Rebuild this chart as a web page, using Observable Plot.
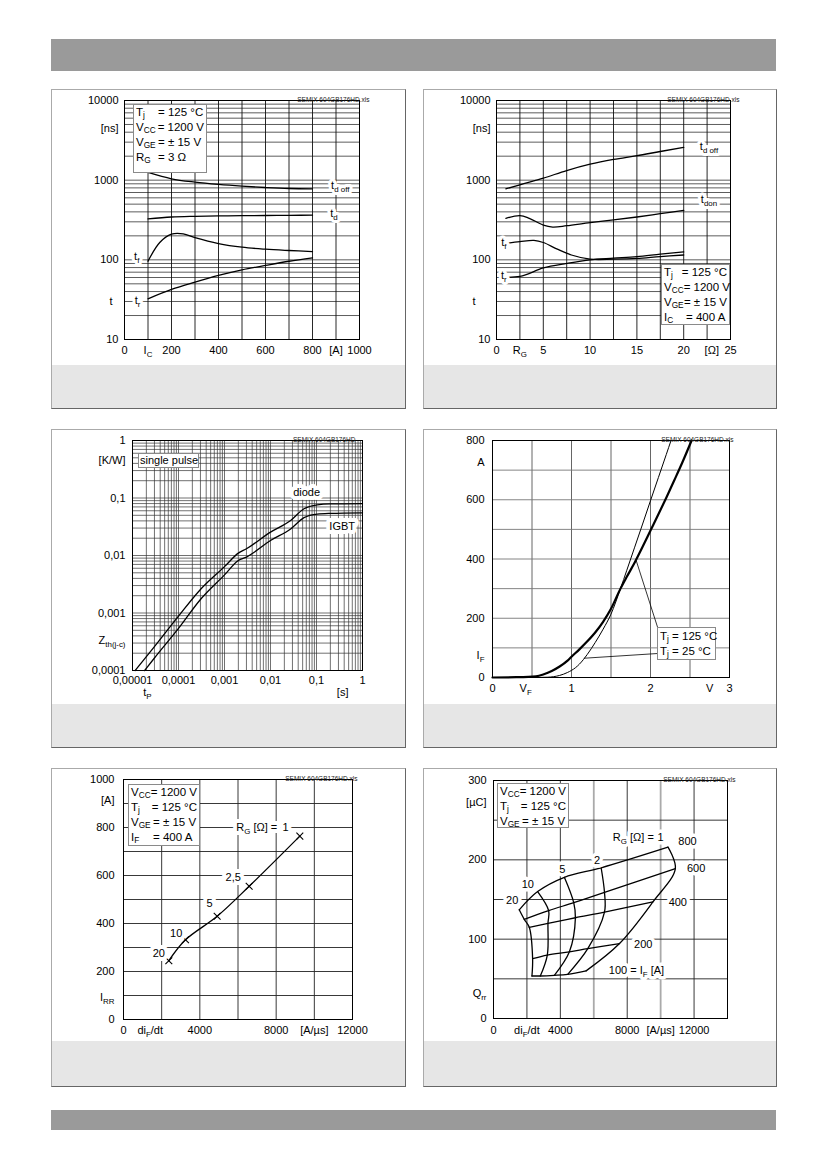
<!DOCTYPE html>
<html><head><meta charset="utf-8">
<script src="https://cdn.jsdelivr.net/npm/d3@7"></script>
<script src="https://cdn.jsdelivr.net/npm/@observablehq/plot@0.6"></script>
<style>
body{margin:0;background:#fff;}
#page{position:relative;width:826px;height:1169px;font-family:"Liberation Sans",Arial,Helvetica,sans-serif;color:#000;overflow:hidden;background:#fff;}
.bar{position:absolute;left:51px;width:725px;background:#9a9a9a;}
.panel{position:absolute;box-sizing:border-box;border:1px solid #aaa;border-right-color:#666;border-bottom-color:#666;background:#fff;}
.gray{position:absolute;left:0;right:0;bottom:0;background:#e6e6e6;}
.chart{position:absolute;}
.chart svg{display:block;overflow:visible;}
.box{position:absolute;background:#fff;border:1px solid #8a8a8a;box-sizing:border-box;font-size:11.5px;line-height:15px;padding:0 2px;white-space:nowrap;}
.box .row{display:flex;}
.box .k{width:22px;}
sub{font-size:72%;vertical-align:-2px;line-height:0;}
</style></head>
<body>
<div id="page"></div>
<script>
// ---------- DATA ----------
// Panel 1: t vs I_C (R_G = 3 Ω)
const ic = [100, 200, 300, 400, 500, 600, 700, 800];
const tdoff1 = [1250, 1040, 944, 883, 840, 809, 786, 778];
const tdon1 = [327, 345, 352, 356, 358, 360, 362, 364];
const icF = [100, 150, 200, 250, 300, 400, 500, 600, 700, 800];
const tf1 = [96, 165, 210, 212, 190, 160, 144, 136, 131, 127];
const tr1 = [32.4, 42.5, 52.5, 63.6, 74.8, 85, 96, 106];

// Panel 2: t vs R_G (I_C = 400 A)
const rgOff = [1, 2.5, 5, 7.5, 10, 12.5, 15, 17.5, 20];
const tdoff2 = [777, 875, 1060, 1320, 1586, 1820, 2028, 2290, 2575];
const rgOn = [1, 2.5, 3.5, 5, 6, 7.5, 10, 12.5, 15, 17.5, 20];
const tdon2 = [332, 359, 332, 273, 258, 268, 293, 317, 345, 380, 418];
const rgF = [1, 2.5, 4, 5, 6.5, 8, 10, 12.5, 15, 17.5, 20];
const tf2 = [161, 169, 175, 165, 136, 115, 102, 102, 104, 110, 115];
const rgR = [1, 2.5, 5, 7.5, 10, 12.5, 15, 17.5, 20];
const tr2 = [60, 62, 79, 90, 100, 105, 110, 118, 126];

// Panel 3: transient thermal impedance
const tpDiode = [1.14e-5, 3e-5, 1e-4, 3e-4, 1e-3, 2e-3, 3e-3, 1e-2, 2.74e-2, 5.35e-2, 0.104, 0.2, 1];
const zDiode = [1e-4, 2.6e-4, 8.8e-4, 2.56e-3, 6.4e-3, 0.011, 0.0131, 0.0255, 0.0407, 0.0649, 0.076, 0.079, 0.08];
const tpIgbt = [1.83e-5, 3e-5, 1e-4, 3e-4, 1e-3, 2e-3, 3e-3, 1e-2, 2.74e-2, 5.35e-2, 0.104, 0.2, 1];
const zIgbt = [1e-4, 1.65e-4, 5.4e-4, 1.72e-3, 4.6e-3, 8.2e-3, 9.4e-3, 0.0182, 0.029, 0.0455, 0.0525, 0.054, 0.0552];

// Panel 4: diode forward characteristic
const vf125 = [0, 0.3, 0.55, 0.65, 0.75, 0.85, 0.95, 1.0, 1.1, 1.2, 1.3, 1.4, 1.5, 1.62, 1.7, 1.8, 1.9, 2.0, 2.1, 2.2, 2.3, 2.4, 2.52];
const if125 = [0, 1, 4, 11, 22, 37, 57, 70, 95, 122, 152, 188, 232, 300, 340, 388, 441, 496, 551, 607, 665, 724, 800];
const vf25 = [0, 0.55, 0.7, 0.85, 0.95, 1.05, 1.1, 1.2, 1.3, 1.4, 1.5, 1.62, 1.7, 1.8, 1.9, 2.0, 2.1, 2.2, 2.26];
const if25 = [0, 0, 1, 7, 17, 33, 45, 78, 118, 163, 214, 300, 362, 440, 518, 597, 675, 753, 800];
const leaderFrom = [[2.10, 161], [2.09, 81]];
const leaderTo = [[1.82, 394], [1.157, 65]];

// Panel 5: I_RR vs di_F/dt
const rg5 = ["1", "2,5", "5", "10", "20"];
const didt5 = [9240, 6585, 4908, 3249, 2375];
const irr5 = [764, 555, 430, 332, 245];
const rg5LabelX = [8490, 5746, 4506, 2760, 1852];
const rg5LabelY = [801, 593, 485, 357, 274];
const rg5Title = "R_{G} [Ω] =", rg5TitleX = 8054;

// Panel 6: Q_rr vs di_F/dt  (columns: R_G = 20, 10, 5, 2, 1 Ω)
const rg6 = [20, 10, 5, 2, 1];
const if6 = [800, 600, 400, 200, 100];
const didt800 = [1540, 2640, 4240, 6440, 10440], qrr800 = [137, 160, 178, 190, 216];
const didt600 = [1840, 3300, 4800, 6640, 10880], qrr600 = [125, 136, 146, 159, 189];
const didt400 = [2140, 3260, 4900, 6640, 9540], qrr400 = [115, 120, 127, 134, 147];
const didt200 = [2340, 3220, 4540, 5640, 7540], qrr200 = [75.5, 80, 84, 88, 94.5];
const didt100 = [2300, 2800, 3640, 4440, 5540], qrr100 = [53.6, 53.6, 54.4, 55.7, 60];
const rg6Title = "R_{G} [Ω] =", rg6TitleX = 9593, rg6TitleY = 228;
const lab6Text = ["1", "800", "600", "400", "200", "100 = I_{F} [A]", "2", "5", "10", "20"];
const lab6X = [9990, 11607, 12125, 11027, 8956, 8555, 6203, 4110, 2052, 1118];
const lab6Y = [228, 223, 188.7, 146.6, 93.8, 60.5, 199.7, 188.3, 169.4, 148.4];

// Tick labels
const xT1 = [0, 100, 200, 400, 600, 800, 900, 1000], xL1 = ["0", "I_{C}", "200", "400", "600", "800", "[A]", "1000"];
const yT1 = [10, 100, 1000, 4500, 10000], yL1 = ["10", "100", "1000", "[ns]", "10000"];
const xT2 = [0, 2.5, 5, 10, 15, 20, 23, 25], xL2 = ["0", "R_{G}", "5", "10", "15", "20", "[Ω]", "25"];
const xT3 = [1e-5, 1e-4, 1e-3, 1e-2, 0.1, 1], xL3 = ["0,00001", "0,0001", "0,001", "0,01", "0,1", "1"];
const xT3b = [2.1e-5, 0.37], xL3b = ["t_{P}", "[s]"];
const yT3 = [1e-4, 3.3e-4, 1e-3, 1e-2, 0.1, 0.45, 1], yL3 = ["0,0001", "Z_{th(j-c)}", "0,001", "0,01", "0,1", "[K/W]", "1"];
const xT4 = [0, 0.42, 1, 2, 2.75, 3], xL4 = ["0", "V_{F}", "1", "2", "V", "3"];
const yT4 = [0, 75, 200, 400, 600, 725, 800], yL4 = ["0", "I_{F}", "200", "400", "600", "A", "800"];
const xT5 = [0, 1400, 4000, 8000, 10000, 12000], xL5 = ["0", "di_{F}/dt", "4000", "8000", "[A/µs]", "12000"];
const yT5 = [0, 90, 200, 400, 600, 800, 912, 1000], yL5 = ["0", "I_{RR}", "200", "400", "600", "800", "[A]", "1000"];
const xT6 = [0, 2000, 4000, 8000, 10000, 12000], xL6 = ["0", "di_{F}/dt", "4000", "8000", "[A/µs]", "12000"];
const yT6 = [0, 31, 100, 200, 272, 300], yL6 = ["0", "Q_{rr}", "100", "200", "[µC]", "300"];

// Grid values
const logGrid = (e0, e1) => d3.range(e0, e1).flatMap(e => [1,2,3,4,5,6,7,8,9].map(k => +(k * Math.pow(10, e)).toPrecision(3)));
const gx1 = [100, 200, 300, 400, 500, 600, 700, 800, 900];
const gy12 = logGrid(1, 4);
const gx2 = [2.5, 5, 7.5, 10, 12.5, 15, 17.5, 20, 22.5];
const gx3 = logGrid(-5, 0), gy3 = logGrid(-4, 0);
const gx4 = [0.5, 1, 1.5, 2, 2.5], gy4 = [100, 200, 300, 400, 500, 600, 700];
const gx5 = [2000, 4000, 6000, 8000, 10000], gy5 = [100, 200, 300, 400, 500, 600, 700, 800, 900];
const gx6 = [2000, 4000, 8000, 12000], gx6b = [6000, 10000], gy6 = [50, 100, 150, 200, 250];

const WM = "SEMIX 604GB176HD.xls";

// ---------- HELPERS ----------
const FF = '"Liberation Sans", Arial, Helvetica, sans-serif';
const page = document.getElementById("page");
const SVGNS = "http://www.w3.org/2000/svg";
const zip = (xs, ys) => xs.map((x, i) => ({x, y: ys[i]}));

function rich(svg) {
  svg.querySelectorAll("text").forEach(t => {
    const els = t.querySelector("tspan") ? [...t.querySelectorAll("tspan")] : [t];
    els.forEach(el => {
      const s = el.textContent;
      if (!s.includes("_{")) return;
      el.textContent = "";
      const re = /_\{([^}]*)\}/g; let last = 0, m, shifted = false; const sh = 3;
      const add = (txt, dy, small) => {
        const ts = document.createElementNS(SVGNS, "tspan");
        if (dy) ts.setAttribute("dy", dy);
        if (small) ts.setAttribute("font-size", "0.72em");
        ts.textContent = txt; el.appendChild(ts);
      };
      while ((m = re.exec(s))) {
        const pre = s.slice(last, m.index);
        if (pre) { add(pre, shifted ? -sh : 0, false); shifted = false; }
        add(m[1], shifted ? 0 : sh, true); shifted = true;
        last = re.lastIndex;
      }
      const post = s.slice(last);
      if (post) add(post, shifted ? -sh : 0, false);
    });
  });
}

function el(cls, css, html) {
  const d = document.createElement("div"); d.className = cls; Object.assign(d.style, css);
  if (html) d.innerHTML = html; page.appendChild(d); return d;
}
function panel(left, top, w, h, grayH) {
  const p = el("panel", {left: left + "px", top: top + "px", width: w + "px", height: h + "px"});
  const g = document.createElement("div"); g.className = "gray"; g.style.height = grayH + "px"; p.appendChild(g);
}
function box(left, top, w, h, rows, extra) {
  const html = rows.map(r => Array.isArray(r)
    ? `<div class="row"><span class="k">${r[0]}</span><span>${r[1]}</span></div>`
    : `<div class="row"><span>${r}</span></div>`).join("");
  el("box", Object.assign({left: left + "px", top: top + "px", width: w + "px", height: h + "px"}, extra || {}), html);
}
function axisText(xT, xL, xdy, yT, yL, ydx) {
  const m = [];
  if (xT) m.push(Plot.text(xT, {x: d => d, text: (d, i) => xL[i], frameAnchor: "bottom", dy: xdy, fontSize: 11}));
  if (yT) m.push(Plot.text(yT, {y: d => d, text: (d, i) => yL[i], frameAnchor: "left", textAnchor: "end", dx: ydx, fontSize: 11}));
  return m;
}
const wm = (txt, dx) => Plot.text([txt], {text: d => d, frameAnchor: "top-right", textAnchor: "end", lineAnchor: "bottom", dx, dy: 1.5, fontSize: 6.5, fill: "#222"});
// label on a white backing: a white-stroked copy underneath, then the black text
function haloText(data, opts, sw) {
  return [
    Plot.text(data, {...opts, fontSize: 11, fill: "white", stroke: "white", strokeWidth: sw || 5}),
    Plot.text(data, {...opts, fontSize: 11, fill: "black"})
  ];
}

function chart(o) {
  const svg = Plot.plot({
    width: o.w, height: o.h,
    marginLeft: o.mL, marginRight: o.mR, marginTop: o.mT, marginBottom: o.mB,
    x: Object.assign({axis: null}, o.x), y: Object.assign({axis: null}, o.y),
    style: {fontFamily: FF, fontSize: "11px", background: "transparent", overflow: "visible", color: "black"},
    marks: o.marks
  });
  rich(svg);
  const d = el("chart", {left: o.left + "px", top: o.top + "px"});
  d.appendChild(svg);
}

// ---------- PAGE FRAME ----------
el("bar", {top: "39px", height: "32px"});
el("bar", {top: "1110px", height: "20px"});
panel(51, 89, 355, 320, 43);
panel(423, 89, 354, 320, 43);
panel(51, 429, 355, 319, 43);
panel(423, 429, 354, 319, 43);
panel(51, 768, 355, 319, 45);
panel(423, 768, 354, 319, 45);

const curve = {stroke: "black", strokeWidth: 1.3};

// ---------- PANEL 1 ----------
chart({
  left: 51, top: 89, w: 355, h: 277, mL: 73, mR: 47, mT: 11, mB: 27,
  x: {domain: [0, 1000]}, y: {type: "log", domain: [10, 10000]},
  marks: [
    Plot.ruleY(gy12, {stroke: "#333", strokeWidth: 0.8}),
    Plot.ruleX(gx1, {stroke: "#111", strokeWidth: 0.9}),
    Plot.line(zip(ic, tdoff1), {x: "x", y: "y", curve: "monotone-x", ...curve}),
    Plot.line(zip(ic, tdon1), {x: "x", y: "y", curve: "monotone-x", ...curve}),
    Plot.line(zip(icF, tf1), {x: "x", y: "y", curve: "catmull-rom", ...curve}),
    Plot.line(zip(ic, tr1), {x: "x", y: "y", curve: "monotone-x", ...curve}),
    ...haloText([{x: 918, y: 857, t: "t_{d off}"}, {x: 891, y: 382, t: "t_{d}"}, {x: 52, y: 110, t: "t_{f}"}, {x: 56, y: 30.9, t: "t_{r}"}],
      {x: "x", y: "y", text: "t"}, 6),
    Plot.frame({stroke: "black", strokeWidth: 1}),
    ...axisText(xT1, xL1, 14, yT1, yL1, -6),
    Plot.text([30], {y: d => d, text: () => "t", frameAnchor: "left", dx: -15, fontSize: 11}),
    wm(WM, 10)
  ]
});
box(133, 104, 74, 69, [["T<sub>j</sub>", "= 125 °C"], ["V<sub>CC</sub>", "= 1200 V"], ["V<sub>GE</sub>", "= ± 15 V"], ["R<sub>G</sub>", "= 3 Ω"]]);

// ---------- PANEL 2 ----------
chart({
  left: 423, top: 89, w: 354, h: 277, mL: 73, mR: 47, mT: 11, mB: 27,
  x: {domain: [0, 25]}, y: {type: "log", domain: [10, 10000]},
  marks: [
    Plot.ruleY(gy12, {stroke: "#333", strokeWidth: 0.8}),
    Plot.ruleX(gx2, {stroke: "#111", strokeWidth: 0.9}),
    Plot.line(zip(rgOff, tdoff2), {x: "x", y: "y", curve: "monotone-x", ...curve}),
    Plot.line(zip(rgOn, tdon2), {x: "x", y: "y", curve: "catmull-rom", ...curve}),
    Plot.line(zip(rgF, tf2), {x: "x", y: "y", curve: "catmull-rom", ...curve}),
    Plot.line(zip(rgR, tr2), {x: "x", y: "y", curve: "monotone-x", ...curve}),
    ...haloText([{x: 22.7, y: 2650, t: "t_{d off}"}, {x: 22.7, y: 566, t: "t_{don}"}, {x: 0.78, y: 166, t: "t_{f}"}, {x: 0.78, y: 63.6, t: "t_{r}"}],
      {x: "x", y: "y", text: "t"}, 6),
    Plot.frame({stroke: "black", strokeWidth: 1}),
    ...axisText(xT2, xL2, 14, yT1, yL1, -6),
    Plot.text([30], {y: d => d, text: () => "t", frameAnchor: "left", dx: -24, fontSize: 11}),
    wm(WM, 9)
  ]
});
box(661, 264, 69, 61, [["T<sub>j</sub>", "= 125 °C"], ["V<sub>CC</sub>", "= 1200 V"], ["V<sub>GE</sub>", "= ± 15 V"], ["I<sub>C</sub>", "= 400 A"]]);

// ---------- PANEL 3 ----------
chart({
  left: 51, top: 429, w: 355, h: 276, mL: 81, mR: 44, mT: 11, mB: 35,
  x: {type: "log", domain: [1e-5, 1]}, y: {type: "log", domain: [1e-4, 1]},
  marks: [
    Plot.ruleX(gx3, {stroke: "#333", strokeWidth: 0.7}),
    Plot.ruleY(gy3, {stroke: "#333", strokeWidth: 0.7}),
    Plot.line(zip(tpDiode, zDiode), {x: "x", y: "y", curve: "monotone-x", ...curve}),
    Plot.line(zip(tpIgbt, zIgbt), {x: "x", y: "y", curve: "monotone-x", ...curve}),
    ...haloText([{x: 0.061, y: 0.126, t: "diode"}, {x: 0.362, y: 0.0323, t: "IGBT"}], {x: "x", y: "y", text: "t"}, 8),
    Plot.frame({stroke: "black", strokeWidth: 1}),
    ...axisText(xT3, xL3, 13, yT3, yL3, -7),
    Plot.text(xT3b, {x: d => d, text: (d, i) => xL3b[i], frameAnchor: "bottom", dy: 25, fontSize: 11}),
    wm("SEMIX 604GB176HD", -7)
  ]
});
box(138, 453, 61, 15, ["single pulse"], {fontSize: "11px", padding: "0 1px", lineHeight: "13px"});

// ---------- PANEL 4 ----------
chart({
  left: 423, top: 429, w: 354, h: 276, mL: 69, mR: 48, mT: 11, mB: 28,
  x: {domain: [0, 3]}, y: {domain: [0, 800]},
  marks: [
    Plot.ruleX(gx4, {stroke: "#555", strokeWidth: 0.9}),
    Plot.ruleY(gy4, {stroke: "#777", strokeWidth: 0.9}),
    Plot.line(zip(vf25, if25), {x: "x", y: "y", curve: "monotone-x", stroke: "black", strokeWidth: 1}),
    Plot.line(zip(vf125, if125), {x: "x", y: "y", curve: "monotone-x", stroke: "black", strokeWidth: 2.2}),
    Plot.link(leaderFrom.map((f, i) => ({x1: f[0], y1: f[1], x2: leaderTo[i][0], y2: leaderTo[i][1]})),
      {x1: "x1", y1: "y1", x2: "x2", y2: "y2", stroke: "black", strokeWidth: 0.8}),
    Plot.frame({stroke: "black", strokeWidth: 1}),
    ...axisText(xT4, xL4, 14.5, yT4, yL4, -8),
    wm(WM, 4)
  ]
});
box(657, 627, 59, 33, ["T<sub>j</sub> = 125 °C", "T<sub>j</sub> = 25 °C"], {lineHeight: "14.7px", paddingTop: "1px"});

// ---------- PANEL 5 ----------
const p5 = didt5.map((x, i) => ({x, y: irr5[i], rg: rg5[i]}));
chart({
  left: 51, top: 768, w: 355, h: 274, mL: 72, mR: 54, mT: 11, mB: 23,
  x: {domain: [0, 12000]}, y: {domain: [0, 1000]},
  marks: [
    Plot.ruleX(gx5, {stroke: "#222", strokeWidth: 0.9}),
    Plot.ruleY(gy5, {stroke: "#222", strokeWidth: 0.9}),
    Plot.line(p5, {x: "x", y: "y", curve: "catmull-rom", ...curve}),
    Plot.dot(p5, {x: "x", y: "y", symbol: "times", r: 3.2, stroke: "black", strokeWidth: 1.1}),
    ...haloText(rg5, {x: (d, i) => rg5LabelX[i], y: (d, i) => rg5LabelY[i], text: d => d}, 8),
    ...haloText([rg5Title], {x: () => rg5TitleX, y: () => rg5LabelY[0], text: d => d, textAnchor: "end"}, 8),
    Plot.frame({stroke: "black", strokeWidth: 1}),
    ...axisText(xT5, xL5, 14, yT5, yL5, -9),
    wm(WM, 5)
  ]
});
box(128, 784, 72, 62, [["V<sub>CC</sub>", "= 1200 V"], ["T<sub>j</sub>", "= 125 °C"], ["V<sub>GE</sub>", "= ± 15 V"], ["I<sub>F</sub>", "= 400 A"]]);

// ---------- PANEL 6 ----------
const didt6 = [didt800, didt600, didt400, didt200, didt100];
const qrr6 = [qrr800, qrr600, qrr400, qrr200, qrr100];
const mesh = if6.flatMap((f, i) => rg6.map((r, j) => ({IF: f, RG: r, x: didt6[i][j], y: qrr6[i][j]})));
chart({
  left: 423, top: 768, w: 354, h: 274, mL: 70, mR: 50, mT: 12, mB: 24,
  x: {domain: [0, 14000]}, y: {domain: [0, 300]},
  marks: [
    Plot.ruleX(gx6b, {stroke: "#aaa", strokeWidth: 1.8}),
    Plot.ruleX(gx6, {stroke: "#222", strokeWidth: 0.9}),
    Plot.ruleY(gy6, {stroke: "#222", strokeWidth: 0.9}),
    Plot.line(mesh, {x: "x", y: "y", z: "IF", curve: "catmull-rom", ...curve}),
    Plot.line(mesh, {x: "x", y: "y", z: "RG", curve: "catmull-rom", ...curve}),
    ...haloText(lab6Text, {x: (d, i) => lab6X[i], y: (d, i) => lab6Y[i], text: d => d}, 7),
    ...haloText([rg6Title], {x: () => rg6TitleX, y: () => rg6TitleY, text: d => d, textAnchor: "end"}, 7),
    Plot.frame({stroke: "black", strokeWidth: 1}),
    ...axisText(xT6, xL6, 15, yT6, yL6, -7),
    wm(WM, 8)
  ]
});
box(497, 783, 72, 45, [["V<sub>CC</sub>", "= 1200 V"], ["T<sub>j</sub>", "= 125 °C"], ["V<sub>GE</sub>", "= ± 15 V"]]);
</script>
</body></html>
